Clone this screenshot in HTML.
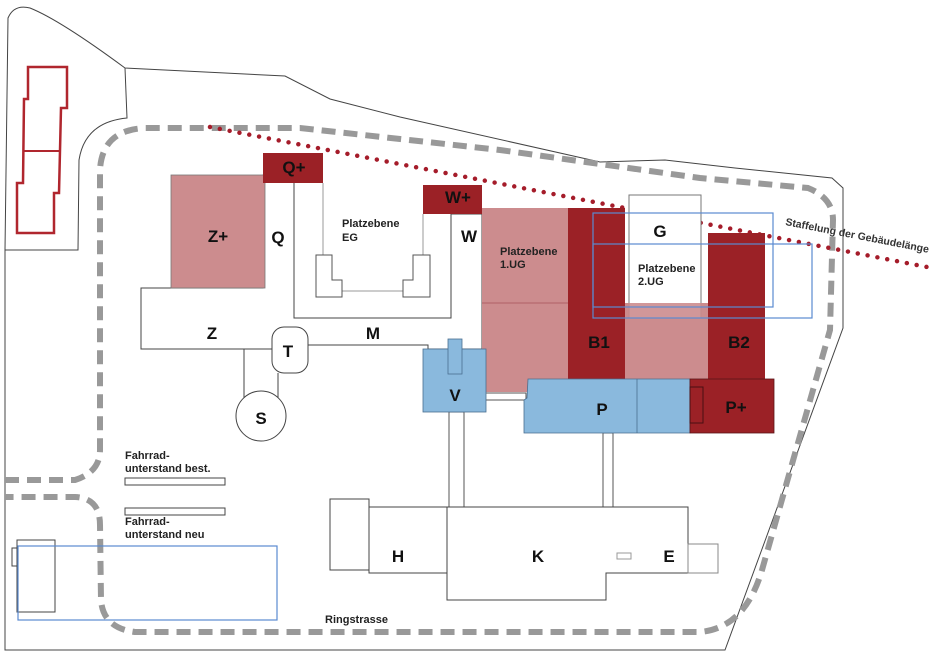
<!DOCTYPE html>
<html><head><meta charset="utf-8"><style>
html,body{margin:0;padding:0;background:#fff}
svg{display:block}
text{font-family:"Liberation Sans",sans-serif}
.b{font-weight:bold;font-size:17px;fill:#111;text-anchor:middle}
.s{font-weight:bold;font-size:11px;fill:#222}
</style></head><body>
<svg width="940" height="661" viewBox="0 0 940 661" xmlns="http://www.w3.org/2000/svg">
<!-- site boundary -->
<path d="M8,18 Q14,4 30,8 Q60,20 125,68 L285,76 L330,99 L400,117 L600,162 L665,160 L735,168 L832,178 L843,188 L843,328 L725,650 L5,650 L5,250 Z" fill="#fff" stroke="#444" stroke-width="1"/>
<path d="M125,68 L127,118 Q85,122 79,160 L78,250 L5,250" fill="none" stroke="#444" stroke-width="1"/>
<!-- ring road -->
<path d="M5,480 L75,480 Q100,472 100,450 L100,170 Q102,130 145,128 L300,128 L500,150 L700,178 L808,188 Q833,198 833,220 L830,330 L762,570 Q745,628 700,632 L135,632 Q103,628 101,600 L100,525 Q100,498 75,497 L5,497" fill="none" stroke="#999" stroke-width="6" stroke-dasharray="14,8"/>
<!-- dotted line -->
<line x1="210" y1="127" x2="932" y2="268" stroke="#a51c2a" stroke-width="4.5" stroke-linecap="round" stroke-dasharray="0,10"/>
<text x="785" y="225" font-size="10.5" font-weight="bold" fill="#333" transform="rotate(11 785 225)">Staffelung der Gebäudelänge</text>
<!-- left red outline building -->
<path d="M28,67 L67,67 L67,108 L61,108 L59,193 L54,193 L54,233 L17,233 L17,183 L23,183 L24,99 L28,99 Z" fill="none" stroke="#b0262e" stroke-width="2.5"/>
<line x1="24" y1="151" x2="59" y2="151" stroke="#b0262e" stroke-width="2"/>
<!-- Z / Q / M / W white structure -->
<path d="M141,288 L263,288 L263,175 L294,175 L294,318 L451,318 L451,214 L482,214 L482,349 L428,349 L428,345 L308,345 L308,349 L141,349 Z" fill="#fff" stroke="#444" stroke-width="1"/>
<rect x="171" y="175" width="94" height="113" fill="#cc8c8e" stroke="#777" stroke-width="0.8"/>
<rect x="263" y="153" width="60" height="30" fill="#9b2126"/>
<rect x="263" y="153" width="31" height="22" fill="#9b2126"/>
<rect x="423" y="185" width="59" height="29" fill="#9b2126"/>
<!-- EG inner lines -->
<g fill="#fff" stroke="#999" stroke-width="1">
<line x1="323" y1="183" x2="323" y2="255"/>
<line x1="423" y1="214" x2="423" y2="255"/>
<line x1="342" y1="291" x2="403" y2="291"/>
<path d="M316,255 L332,255 L332,280 L342,280 L342,297 L316,297 Z" stroke="#555"/>
<path d="M413,255 L430,255 L430,297 L403,297 L403,280 L413,280 Z" stroke="#555"/>
</g>
<!-- T and S -->
<line x1="244" y1="349" x2="244" y2="398" stroke="#444"/>
<line x1="278" y1="373" x2="278" y2="398" stroke="#444"/>
<circle cx="261" cy="416" r="25" fill="#fff" stroke="#444"/>
<rect x="272" y="327" width="36" height="46" rx="12" fill="#fff" stroke="#444"/>
<!-- connectors down -->
<g fill="#fff" stroke="#555">
<rect x="449" y="412" width="15" height="96"/>
<rect x="603" y="433" width="10" height="75"/>
<rect x="484" y="393" width="42" height="7"/>
</g>
<!-- pink & red center -->
<rect x="482" y="208" width="86" height="184" fill="#cc8c8e"/>
<line x1="482" y1="303" x2="568" y2="303" stroke="#b06065" stroke-width="1"/>
<rect x="625" y="303" width="83" height="76" fill="#cc8c8e"/>
<rect x="629" y="195" width="72" height="123" fill="#fff" stroke="#777"/>
<rect x="568" y="208" width="57" height="171" fill="#9b2126"/>
<rect x="708" y="233" width="57" height="146" fill="#9b2126"/>
<rect x="625" y="303" width="83" height="15" fill="#cc8c8e" opacity="0.9"/>
<rect x="593" y="213" width="180" height="94" fill="none" stroke="#5a8ad0" stroke-width="1.2"/>
<rect x="593" y="244" width="219" height="74" fill="none" stroke="#5a8ad0" stroke-width="1.2"/>
<!-- P / P+ / V -->
<path d="M528,379 L690,379 L690,433 L524,433 L524,400 L527,398 Z" fill="#8ab9dd" stroke="#4a6f90" stroke-width="0.8"/>
<line x1="637" y1="379" x2="637" y2="433" stroke="#4a6f90" stroke-width="0.8"/>
<rect x="690" y="379" width="84" height="54" fill="#9b2126" stroke="#5a1418" stroke-width="0.8"/>
<rect x="690" y="387" width="13" height="36" fill="none" stroke="#4a0e12" stroke-width="1"/>
<rect x="423" y="349" width="63" height="63" fill="#8ab9dd" stroke="#4a6f90" stroke-width="0.8"/>
<rect x="448" y="339" width="14" height="35" fill="#8ab9dd" stroke="#4a6f90" stroke-width="0.8"/>
<!-- bottom buildings -->
<g fill="#fff" stroke="#444" stroke-width="1">
<rect x="330" y="499" width="39" height="71"/>
<rect x="369" y="507" width="78" height="66"/>
<path d="M447,507 L688,507 L688,573 L606,573 L606,600 L447,600 Z"/>
<rect x="688" y="544" width="30" height="29" stroke="#888"/>
<rect x="617" y="553" width="14" height="6" stroke="#999"/>
<rect x="125" y="478" width="100" height="7"/>
<rect x="125" y="508" width="100" height="7"/>
<rect x="12" y="548" width="5" height="18"/>
<rect x="17" y="540" width="38" height="72"/>
</g>
<rect x="18" y="546" width="259" height="74" fill="none" stroke="#5a8ad0" stroke-width="1.2"/>
<!-- labels -->
<text class="b" x="218" y="242">Z+</text>
<text class="b" x="278" y="243">Q</text>
<text class="b" x="294" y="173">Q+</text>
<text class="b" x="458" y="203">W+</text>
<text class="b" x="469" y="242">W</text>
<text class="b" x="212" y="339">Z</text>
<text class="b" x="373" y="339">M</text>
<text class="b" x="288" y="357">T</text>
<text class="b" x="261" y="424">S</text>
<text class="b" x="455" y="401">V</text>
<text class="b" x="599" y="348">B1</text>
<text class="b" x="739" y="348">B2</text>
<text class="b" x="660" y="237">G</text>
<text class="b" x="602" y="415">P</text>
<text class="b" x="736" y="413">P+</text>
<text class="b" x="398" y="562">H</text>
<text class="b" x="538" y="562">K</text>
<text class="b" x="669" y="562">E</text>
<text class="s" x="342" y="227">Platzebene</text>
<text class="s" x="342" y="241">EG</text>
<text class="s" x="500" y="255">Platzebene</text>
<text class="s" x="500" y="268">1.UG</text>
<text class="s" x="638" y="272">Platzebene</text>
<text class="s" x="638" y="285">2.UG</text>
<text class="s" x="125" y="459">Fahrrad-</text>
<text class="s" x="125" y="472">unterstand best.</text>
<text class="s" x="125" y="525">Fahrrad-</text>
<text class="s" x="125" y="538">unterstand neu</text>
<text class="s" x="325" y="623">Ringstrasse</text>
</svg>
</body></html>
